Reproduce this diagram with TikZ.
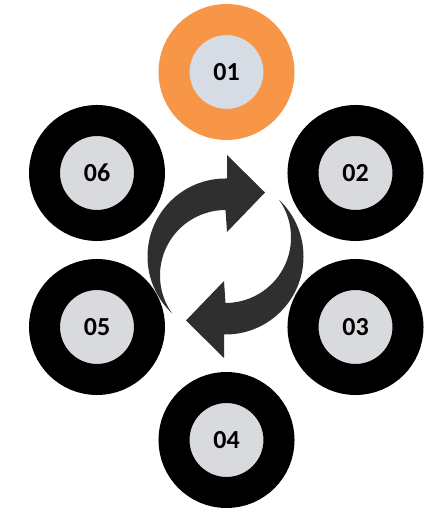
\documentclass[tikz,border=0pt]{standalone}
\usepackage{fontspec}
\setmainfont{Carlito}
\definecolor{ringorange}{HTML}{F79646}
\definecolor{innergray}{HTML}{D9DADD}
\definecolor{innerblue}{HTML}{D6DCE3}
\definecolor{arrowgray}{HTML}{2F2F2F}

\begin{document}
\begin{tikzpicture}[x = 1pt, y = 1pt, ring/.style = {circle, draw = black, line width = 31pt, fill = innergray, minimum size = 105pt, inner sep = 0pt, font = \bfseries\fontsize{26}{26}\selectfont}]
	\useasboundingbox (0,0) rectangle (447,513);
	% the six steps
	\node[ring, draw = ringorange, fill = innerblue] (s01) at (226.5,441) {01};
	\node[ring] (s02) at (355.5,340) {02};
	\node[ring] (s03) at (355.5,186) {03};
	\node[ring] (s04) at (226.5,73) {04};
	\node[ring] (s05) at (97,186) {05};
	\node[ring] (s06) at (97,340) {06};
	% cycle symbol in the middle
	\coordinate (mid) at (225.5,256.5);
	\foreach \turn in {0,180}
	{
		\begin{scope}[shift = {(mid)}, rotate = \turn]
			\fill[arrowgray] (0,78) arc[start angle = 90, end angle = 226.6, radius = 78pt]
				arc[start angle = 215.1, end angle = 90, radius = 65.5pt]
				-- (1.5,24.5) -- (39.5,64) -- (1.5,101.5) -- (1.5,78) -- cycle;
		\end{scope}
	}
\end{tikzpicture}
\end{document}
